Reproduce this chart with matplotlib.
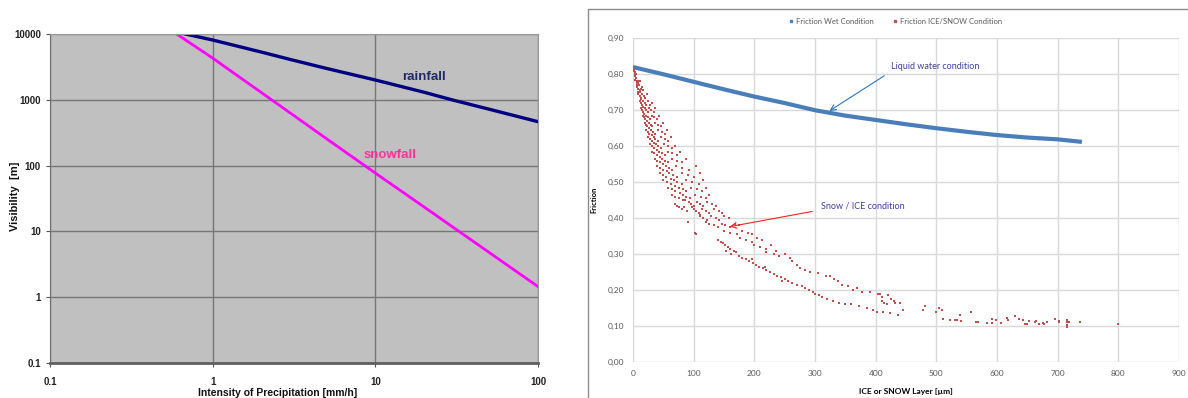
import matplotlib
matplotlib.use('Agg')
import matplotlib.pyplot as plt
from matplotlib.ticker import FixedLocator, NullLocator
from matplotlib.patches import Rectangle
from matplotlib.lines import Line2D

# ---- left chart: visibility vs precipitation intensity (log-log) ----
rain_x = [0.68, 1, 2, 3, 5, 10, 20, 30, 50, 100]
rain_v = [10000, 8100, 5300, 4100, 3000, 2000, 1300, 990, 720, 465]
snow_x = [0.6, 1, 2, 3, 5, 10, 20, 30, 50, 100]
snow_v = [10000, 4300, 1280, 630, 257, 77, 23.4, 11.6, 4.8, 1.45]
vis_xticks = [0.1, 1, 10, 100]
vis_xlabels = ['0.1', '1', '10', '100']
vis_yticks = [0.1, 1, 10, 100, 1000, 10000]
vis_ylabels = ['0.1', '1', '10', '100', '1000', '10000']

# ---- right chart: friction vs layer thickness ----
wet_x = [0, 25, 50, 100, 150, 200, 250, 300, 350, 400, 450, 500, 550, 600, 650, 700, 740]
wet_y = [0.82, 0.81, 0.80, 0.779, 0.758, 0.738, 0.72, 0.70, 0.685, 0.673, 0.661,
         0.650, 0.64, 0.631, 0.624, 0.619, 0.612]

ice_pts = [
    (0, 0.82), (1, 0.815), (2, 0.81), (3, 0.805), (3, 0.80), (4, 0.795), (5, 0.80), (5, 0.79),
    (4, 0.785), (6, 0.78), (7, 0.775), (8, 0.78), (9, 0.775), (10, 0.77), (6, 0.77), (11, 0.78),
    (7, 0.765), (9, 0.76), (11, 0.755), (13, 0.76), (15, 0.765), (17, 0.755), (8, 0.75), (12, 0.75),
    (9, 0.745), (11, 0.74), (13, 0.735), (15, 0.745), (18, 0.74), (20, 0.735), (23, 0.745), (14, 0.73),
    (11, 0.725), (13, 0.72), (15, 0.715), (17, 0.725), (19, 0.72), (22, 0.715), (25, 0.725), (28, 0.715),
    (31, 0.72), (16, 0.71),
    (13, 0.705), (15, 0.70), (17, 0.695), (19, 0.705), (21, 0.70), (24, 0.695), (27, 0.705), (30, 0.70),
    (34, 0.695), (37, 0.705), (18, 0.69),
    (16, 0.685), (18, 0.68), (20, 0.675), (22, 0.685), (25, 0.68), (28, 0.675), (31, 0.685), (35, 0.68),
    (39, 0.675), (43, 0.685), (23, 0.67),
    (19, 0.665), (21, 0.66), (23, 0.655), (26, 0.665), (29, 0.66), (32, 0.655), (36, 0.665), (41, 0.66),
    (46, 0.655), (49, 0.665), (27, 0.65),
    (21, 0.645), (24, 0.64), (27, 0.635), (30, 0.645), (33, 0.64), (37, 0.635), (42, 0.645), (47, 0.64),
    (52, 0.635), (56, 0.645), (31, 0.63),
    (25, 0.625), (28, 0.62), (31, 0.615), (34, 0.625), (37, 0.62), (41, 0.615), (46, 0.625), (52, 0.62),
    (58, 0.615), (62, 0.625), (35, 0.61),
    (28, 0.605), (31, 0.60), (35, 0.595), (38, 0.605), (42, 0.60), (46, 0.595), (51, 0.605), (57, 0.60),
    (64, 0.595), (70, 0.60), (40, 0.59),
    (32, 0.585), (35, 0.58), (39, 0.575), (43, 0.585), (47, 0.58), (52, 0.575), (58, 0.585), (65, 0.58),
    (72, 0.575), (78, 0.585), (45, 0.57),
    (36, 0.565), (40, 0.56), (44, 0.555), (48, 0.565), (53, 0.56), (58, 0.555), (64, 0.565), (72, 0.56),
    (80, 0.555), (88, 0.565), (50, 0.55),
    (40, 0.545), (45, 0.54), (49, 0.535), (54, 0.545), (59, 0.54), (64, 0.535), (71, 0.545), (80, 0.54),
    (92, 0.535), (104, 0.545), (56, 0.53),
    (45, 0.525), (50, 0.52), (55, 0.515), (60, 0.525), (66, 0.52), (72, 0.515), (80, 0.525), (90, 0.52),
    (100, 0.515), (110, 0.525), (62, 0.51),
    (50, 0.505), (56, 0.50), (62, 0.495), (67, 0.505), (73, 0.50), (80, 0.495), (88, 0.505), (98, 0.50),
    (108, 0.495), (115, 0.505), (70, 0.49),
    (58, 0.485), (64, 0.48), (70, 0.475), (76, 0.485), (82, 0.48), (88, 0.475), (96, 0.485), (106, 0.48),
    (114, 0.475), (120, 0.485), (78, 0.47),
    (64, 0.465), (70, 0.46), (76, 0.455), (82, 0.465), (88, 0.46), (94, 0.455), (102, 0.465), (112, 0.46),
    (120, 0.455), (126, 0.465), (86, 0.45),
    (70, 0.44), (72, 0.435), (76, 0.43), (80, 0.425), (84, 0.43), (89, 0.42), (90, 0.39), (102, 0.36),
    (104, 0.355), (82, 0.45),
    (92, 0.445), (96, 0.44), (100, 0.435), (105, 0.445), (110, 0.44), (116, 0.435), (122, 0.445),
    (130, 0.44), (136, 0.435), (98, 0.43),
    (100, 0.425), (104, 0.42), (108, 0.415), (114, 0.425), (120, 0.42), (126, 0.415), (134, 0.425),
    (142, 0.42), (146, 0.415), (110, 0.41),
    (110, 0.405), (116, 0.40), (122, 0.395), (128, 0.405), (136, 0.40), (142, 0.395), (150, 0.405),
    (158, 0.40), (120, 0.39),
    (126, 0.385), (134, 0.38), (140, 0.375), (146, 0.385), (152, 0.38), (160, 0.375), (168, 0.385),
    (175, 0.38),
    (150, 0.365), (160, 0.36), (172, 0.355), (180, 0.365), (190, 0.36), (196, 0.355),
    (140, 0.34), (145, 0.335), (148, 0.33), (152, 0.325), (156, 0.32), (160, 0.315), (154, 0.31),
    (162, 0.30), (170, 0.305), (166, 0.31),
    (176, 0.345), (186, 0.34), (196, 0.335), (204, 0.345), (212, 0.34),
    (200, 0.325), (210, 0.32), (220, 0.315), (228, 0.325), (236, 0.31),
    (220, 0.305), (232, 0.30), (240, 0.295), (250, 0.30), (258, 0.29),
    (175, 0.295), (180, 0.29), (186, 0.285), (192, 0.28), (198, 0.275), (202, 0.27), (208, 0.265),
    (196, 0.285), (214, 0.26), (220, 0.255), (226, 0.25), (232, 0.245), (238, 0.24), (218, 0.265),
    (244, 0.235), (250, 0.23), (256, 0.225), (262, 0.22), (246, 0.225), (270, 0.215), (278, 0.21),
    (284, 0.205), (290, 0.20), (296, 0.195), (300, 0.19),
    (262, 0.28), (270, 0.27), (276, 0.26), (284, 0.255), (292, 0.25), (305, 0.247), (318, 0.24),
    (325, 0.239), (332, 0.23), (338, 0.225), (345, 0.215), (355, 0.21), (362, 0.20), (370, 0.205),
    (378, 0.195), (390, 0.194), (404, 0.19), (420, 0.186), (432, 0.164), (410, 0.17),
    (306, 0.185), (312, 0.18), (320, 0.175), (330, 0.17), (340, 0.165), (350, 0.16), (360, 0.16),
    (372, 0.155), (385, 0.15), (395, 0.145), (402, 0.14), (412, 0.14), (424, 0.135), (436, 0.13),
    (407, 0.19), (410, 0.18), (413, 0.165), (418, 0.16), (425, 0.175), (430, 0.17), (440, 0.165),
    (445, 0.145), (478, 0.144), (481, 0.157), (500, 0.139), (509, 0.144), (511, 0.119), (505, 0.150),
    (522, 0.117), (531, 0.117), (534, 0.117), (539, 0.131), (540, 0.114), (557, 0.139), (566, 0.111),
    (569, 0.112), (583, 0.108), (591, 0.119), (592, 0.108), (599, 0.117), (606, 0.108), (616, 0.122),
    (618, 0.116), (629, 0.128), (637, 0.119), (643, 0.118), (646, 0.106), (650, 0.106), (652, 0.113),
    (662, 0.111), (665, 0.113), (670, 0.106), (675, 0.109), (678, 0.106), (683, 0.111), (695, 0.119),
    (702, 0.111), (703, 0.114), (715, 0.097), (715, 0.103), (715, 0.110), (715, 0.117), (718, 0.110),
    (736, 0.111), (800, 0.106),
]
ice_x = [p[0] for p in ice_pts]
ice_y = [p[1] for p in ice_pts]

fr_yticks = [i / 10 for i in range(10)]
fr_ylabels = ['%.2f' % v for v in fr_yticks]
fr_ylabels = [s.replace('.', ',') for s in fr_ylabels]
fr_xticks = list(range(0, 1000, 100))

W, H = 1188, 398
fig = plt.figure(figsize=(W / 100, H / 100), dpi=100)

# ---------------- left chart ----------------
ax1 = fig.add_axes([50 / W, 1 - 363 / H, 488 / W, 329 / H])
ax1.set_facecolor('#C0C0C0')
ax1.set_xscale('log')
ax1.set_yscale('log')
ax1.set_xlim(0.1, 100)
ax1.set_ylim(0.1, 10000)
ax1.xaxis.set_major_locator(FixedLocator(vis_xticks))
ax1.yaxis.set_major_locator(FixedLocator(vis_yticks))
ax1.xaxis.set_minor_locator(NullLocator())
ax1.yaxis.set_minor_locator(NullLocator())
ax1.set_xticklabels(vis_xlabels)
ax1.set_yticklabels(vis_ylabels)
ax1.grid(True, color='#777777', lw=1.0)
ax1.set_axisbelow(True)
ax1.tick_params(axis='both', labelsize=7, length=3, color='#555555', labelcolor='#222222')
ax1.tick_params(axis='x', pad=7)
for lab in ax1.get_xticklabels() + ax1.get_yticklabels():
    lab.set_fontfamily('Liberation Sans')
    lab.set_fontweight('bold')
for s in ['top', 'right']:
    ax1.spines[s].set_color('#9a9a9a')
    ax1.spines[s].set_linewidth(0.8)
ax1.spines['left'].set_color('#707070')
ax1.spines['bottom'].set_color('#606060')
ax1.spines['bottom'].set_linewidth(2)

ax1.plot(rain_x, rain_v, color='#000080', lw=2.4)
ax1.plot(snow_x, snow_v, color='#FF00FF', lw=2.0)
ax1.text(19.9, 2220, 'rainfall', color='#1F2A6B', fontsize=9.5, fontweight='bold',
         family='Liberation Sans', ha='center', va='center')
ax1.text(12.3, 145, 'snowfall', color='#FF3399', fontsize=9.5, fontweight='bold',
         family='Liberation Sans', ha='center', va='center')

fig.text(15 / W, 1 - 196 / H, 'Visibility  [m]', rotation=90, fontsize=8, fontweight='bold',
         family='Liberation Sans', ha='center', va='center', color='#111111')
fig.text(278 / W, 1 - 388 / H, 'Intensity of Precipitation [mm/h]', fontsize=7.5,
         fontweight='bold', family='Liberation Sans', ha='center', va='top', color='#111111')

# ---------------- right chart ----------------
fig.patches.append(Rectangle((588 / W, -0.05), 0.6, 1 - 9 / H + 0.05, transform=fig.transFigure,
                             fill=False, edgecolor='#8c8c8c', lw=1.0))

ax2 = fig.add_axes([633 / W, 1 - 362 / H, 546 / W, 323.7 / H])
ax2.set_xlim(0, 900)
ax2.set_ylim(0, 0.9)
ax2.set_xticks(fr_xticks)
ax2.set_yticks(fr_yticks)
ax2.set_yticklabels(fr_ylabels)
ax2.grid(True, color='#D9D9D9', lw=1.0)
ax2.set_axisbelow(True)
for s in ax2.spines.values():
    s.set_visible(False)
ax2.tick_params(axis='both', length=0, labelsize=6, labelcolor='#595959', pad=6)
for lab in ax2.get_xticklabels() + ax2.get_yticklabels():
    lab.set_fontfamily('Lato')

ax2.plot(wet_x, wet_y, color='#4a7ebb', lw=3.0, solid_capstyle='butt')
ax2.scatter(ice_x, ice_y, s=4.5, marker='s', color='#C0504D', lw=0, zorder=3)

ax2.annotate('', xy=(320, 0.694), xytext=(418, 0.80),
             arrowprops=dict(arrowstyle='->', color='#2E75B6', lw=0.8))
ax2.text(425, 0.822, 'Liquid water condition', color='#4040A0', fontsize=6.5,
         family='Lato', ha='left', va='center')
ax2.annotate('', xy=(155, 0.375), xytext=(300, 0.42),
             arrowprops=dict(arrowstyle='->', color='#FF2020', lw=0.8), zorder=4)
ax2.text(310, 0.433, 'Snow / ICE condition', color='#4040A0', fontsize=6.5,
         family='Lato', ha='left', va='center')

ax2.set_ylabel('Friction', fontsize=5.5, fontweight='bold', family='Lato', labelpad=8)
ax2.set_xlabel('ICE or SNOW Layer [\u00b5m]', fontsize=6, fontweight='bold', family='Lato',
               labelpad=8)

handles = [Line2D([], [], ls='', marker='s', ms=1.5, color='#4a7ebb'),
           Line2D([], [], ls='', marker='s', ms=1.5, color='#C0504D')]
fig.legend(handles, ['Friction Wet Condition', 'Friction ICE/SNOW Condition'],
           loc='center', bbox_to_anchor=(895 / W, 1 - 21 / H), ncol=2, frameon=False,
           prop={'family': 'Lato', 'size': 5.5}, labelcolor='#595959',
           handletextpad=0.2, columnspacing=2.5, handlelength=0.8)

fig.savefig('out.png', dpi=100)
